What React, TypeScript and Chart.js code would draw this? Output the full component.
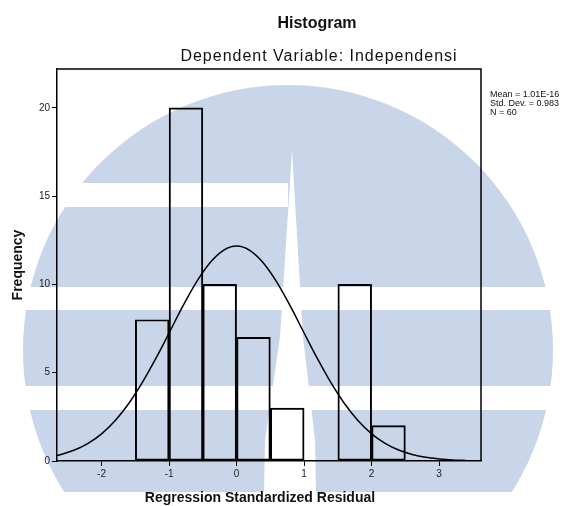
import { useEffect, useRef } from 'react';
import { Chart, registerables } from 'chart.js';

Chart.register(...registerables);

const TITLE = 'Histogram';
const SUBTITLE = 'Dependent Variable: Independensi';
const X_TITLE = 'Regression Standardized Residual';
const Y_TITLE = 'Frequency';
const STATS = ['Mean = 1.01E-16', 'Std. Dev. = 0.983', 'N = 60'];

// histogram bins (centres, width 0.5) and counts
const binCenters = [-1.25, -0.75, -0.25, 0.25, 0.75, 1.25, 1.75, 2.25];
const binCounts = [8, 20, 10, 7, 3, 0, 10, 2];

// normal curve
const curveX = [-2.66, -2.6, -2.4, -2.2, -2.0, -1.8, -1.6, -1.4, -1.2, -1.0, -0.8, -0.6, -0.4, -0.2, 0, 0.2, 0.4, 0.6, 0.8, 1.0, 1.2, 1.4, 1.6, 1.8, 2.0, 2.2, 2.4, 2.6, 2.8, 3.0, 3.2, 3.4];
const curveY = [0.31, 0.37, 0.62, 1.0, 1.54, 2.28, 3.24, 4.42, 5.78, 7.25, 8.74, 10.1, 11.2, 11.92, 12.17, 11.92, 11.2, 10.1, 8.74, 7.25, 5.78, 4.42, 3.24, 2.28, 1.54, 1.0, 0.62, 0.37, 0.21, 0.12, 0.06, 0.03];

const X_MIN = -2.66;
const X_MAX = 3.62;
const X_STEP = 1;
const Y_MIN = 0;
const Y_MAX = 22.2;
const Y_STEP = 5;

const FONT = '"Liberation Sans", Arial, sans-serif';

const watermarkPlugin = {
  id: 'watermark',
  beforeDraw(chart: any) {
    const ctx = chart.ctx as CanvasRenderingContext2D;
    ctx.save();
    ctx.beginPath();
    ctx.rect(0, 0, chart.width, 492);
    ctx.clip();
    ctx.fillStyle = '#c9d6ea';
    ctx.beginPath();
    ctx.arc(288, 350, 265, 0, Math.PI * 2);
    ctx.fill();
    ctx.fillStyle = '#ffffff';
    ctx.fillRect(0, 183, 288, 24);
    ctx.fillRect(0, 287, chart.width, 23);
    ctx.fillRect(0, 386, chart.width, 24);
    ctx.beginPath();
    ctx.moveTo(292, 150);
    ctx.lineTo(303, 337);
    ctx.lineTo(315, 440);
    ctx.lineTo(316, 492);
    ctx.lineTo(264, 492);
    ctx.lineTo(265, 440);
    ctx.lineTo(280, 337);
    ctx.closePath();
    ctx.fill();
    ctx.restore();
  },
};

const textPlugin = {
  id: 'texts',
  afterDraw(chart: any) {
    const ctx = chart.ctx as CanvasRenderingContext2D;
    const { left, right, top, bottom } = chart.chartArea;
    ctx.save();
    ctx.strokeStyle = '#000';
    ctx.lineWidth = 1.5;
    ctx.beginPath();
    ctx.moveTo(left, top);
    ctx.lineTo(right, top);
    ctx.lineTo(right, bottom);
    ctx.stroke();

    ctx.fillStyle = '#111';
    ctx.textAlign = 'center';
    ctx.textBaseline = 'middle';
    ctx.font = `bold 16px ${FONT}`;
    ctx.fillText(TITLE, 317, 24);
    ctx.font = `16px ${FONT}`;
    (ctx as any).letterSpacing = '1px';
    ctx.fillText(SUBTITLE, 319, 57);
    (ctx as any).letterSpacing = '0px';

    ctx.font = `bold 14px ${FONT}`;
    ctx.fillText(X_TITLE, 260, 498);

    ctx.textAlign = 'left';
    ctx.font = `9px ${FONT}`;
    STATS.forEach((s, i) => ctx.fillText(s, right + 9, 95 + i * 8.6));
    ctx.restore();
  },
};

export default function App() {
  const ref = useRef<HTMLCanvasElement | null>(null);

  useEffect(() => {
    if (!ref.current) return;
    const chart = new Chart(ref.current, {
      type: 'bar',
      data: {
        datasets: [
          {
            type: 'line',
            data: curveX.map((x, i) => ({ x, y: curveY[i] })),
            borderColor: '#000',
            borderWidth: 1.5,
            pointRadius: 0,
            tension: 0.4,
            cubicInterpolationMode: 'monotone',
            fill: false,
            order: 0,
          } as any,
          {
            type: 'bar',
            data: binCenters.map((x, i) => ({ x, y: binCounts[i] })),
            backgroundColor: 'rgba(0,0,0,0)',
            borderColor: '#000',
            borderWidth: 1.3,
            borderSkipped: false,
            categoryPercentage: 1,
            barPercentage: 1,
            order: 1,
          } as any,
        ],
      },
      options: {
        responsive: false,
        animation: false,
        layout: { padding: { top: 69, right: 88, left: 0, bottom: 0 } },
        plugins: {
          legend: { display: false },
          title: { display: false },
          tooltip: { enabled: false },
        },
        scales: {
          x: {
            type: 'linear',
            min: X_MIN,
            max: X_MAX,
            offset: false,
            afterFit: (s: any) => { s.height = 45; },
            grid: { display: true, offset: false, drawOnChartArea: false, drawTicks: true, tickLength: 5, color: '#000', lineWidth: 1 },
            border: { display: true, color: '#000', width: 1.5 },
            ticks: { stepSize: X_STEP, includeBounds: false, autoSkip: false, maxRotation: 0, padding: 2, color: '#222', font: { family: FONT, size: 10 } },
            title: { display: false },
          },
          y: {
            type: 'linear',
            min: Y_MIN,
            max: Y_MAX,
            afterFit: (s: any) => { s.width = 57; },
            grid: { display: true, drawOnChartArea: false, drawTicks: true, tickLength: 5, color: '#000', lineWidth: 1 },
            border: { display: true, color: '#000', width: 1.5 },
            ticks: { stepSize: Y_STEP, includeBounds: false, padding: 2, color: '#222', font: { family: FONT, size: 10 } },
            title: { display: true, text: Y_TITLE, color: '#111', padding: { top: 10, bottom: 0 }, font: { family: FONT, size: 14, weight: 'bold' } },
          },
        },
      } as any,
      plugins: [watermarkPlugin, textPlugin],
    });
    return () => chart.destroy();
  }, []);

  return (
    <div style={{ position: 'fixed', left: 0, top: 0, width: 569, height: 506, background: '#fff' }}>
      <canvas ref={ref} width={569} height={506} />
    </div>
  );
}
